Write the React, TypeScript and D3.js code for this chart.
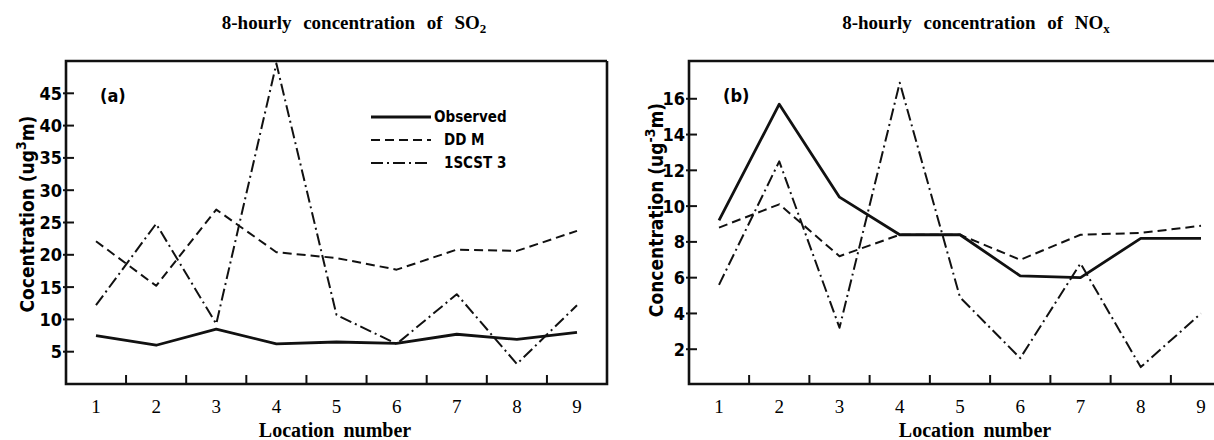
import React, { useEffect, useRef } from "react";
import * as d3 from "d3";

const locations = [1, 2, 3, 4, 5, 6, 7, 8, 9];
const so2Observed = [7.5, 6.0, 8.5, 6.2, 6.5, 6.3, 7.7, 6.9, 8.0];
const so2Ddm = [22.1, 15.2, 27.0, 20.4, 19.5, 17.7, 20.8, 20.6, 23.7];
const so2Iscst = [12.2, 24.8, 9.3, 49.6, 10.7, 6.2, 13.9, 3.1, 12.2];
const noxObserved = [9.2, 15.7, 10.5, 8.4, 8.4, 6.1, 6.0, 8.2, 8.2];
const noxDdm = [8.8, 10.1, 7.2, 8.4, 8.4, 7.0, 8.4, 8.5, 8.9];
const noxIscst = [5.6, 12.5, 3.2, 16.9, 4.9, 1.5, 6.8, 1.0, 4.0];
const so2Ticks = [5, 10, 15, 20, 25, 30, 35, 40, 45];
const noxTicks = [2, 4, 6, 8, 10, 12, 14, 16];
const legendNames = ["Observed", "DD M", "1SCST 3"];

const dashes = [null, "9,5", "12,4,2,4"];
const widths = [2.8, 2, 2];
const sans = "'DejaVu Sans Condensed', 'DejaVu Sans', sans-serif";
const serif = "'Liberation Serif', 'Times New Roman', serif";

export default function App() {
	const ref = useRef<SVGSVGElement>(null);

	useEffect(() => {
		const svg = d3.select(ref.current);
		svg.selectAll("*").remove();

		const panel = (opts) => {
			const { left, right, top, bottom, xRange, yDomain, yRange, ticks, series, tag, title, sub, yTitle, sup, titleX, labelX, frameRight } = opts;
			const g = svg.append("g");
			const x = d3.scaleLinear().domain([1, 9]).range(xRange);
			const y = d3.scaleLinear().domain(yDomain).range(yRange);

			// frame
			const edge = frameRight ? right : 1214;
			const frame = [[edge, top], [left, top], [left, bottom], [edge, bottom]];
			if (frameRight) frame.push([right, top]);
			g.append("path")
				.attr("d", d3.line()(frame))
				.attr("fill", "none")
				.attr("stroke", "#111")
				.attr("stroke-width", 2.6);

			// y ticks
			const yt = g.selectAll(".yt").data(ticks).join("g").attr("transform", (d) => `translate(${left},${y(d)})`);
			yt.append("line").attr("x1", -3).attr("x2", 8).attr("stroke", "#111").attr("stroke-width", 2);
			yt.append("text")
				.attr("x", -4)
				.attr("dy", "0.36em")
				.attr("text-anchor", "end")
				.attr("font-family", sans)
				.attr("font-weight", "bold")
				.attr("font-size", 18)
				.text((d) => d);

			// x ticks sit between the locations
			g.selectAll(".xt")
				.data(locations.slice(0, 8))
				.join("line")
				.attr("x1", (d) => x(d + 0.5))
				.attr("x2", (d) => x(d + 0.5))
				.attr("y1", bottom)
				.attr("y2", bottom - 9)
				.attr("stroke", "#111")
				.attr("stroke-width", 2);

			g.selectAll(".xl")
				.data(locations)
				.join("text")
				.attr("x", (d) => x(d))
				.attr("y", 413)
				.attr("text-anchor", "middle")
				.attr("font-family", serif)
				.attr("font-size", 19)
				.text((d) => d);

			g.append("text")
				.attr("x", labelX)
				.attr("y", 437)
				.attr("text-anchor", "middle")
				.attr("font-family", serif)
				.attr("font-weight", "bold")
				.attr("font-size", 20)
				.attr("word-spacing", 4)
				.text("Location number");

			const t = g.append("text")
				.attr("x", titleX)
				.attr("y", 29)
				.attr("text-anchor", "middle")
				.attr("font-family", serif)
				.attr("font-weight", "bold")
				.attr("font-size", 19)
				.attr("word-spacing", 7)
				.text(title);
			t.append("tspan").attr("dy", 4).attr("font-size", 13).text(sub);

			// y title
			const yl = g.append("text")
				.attr("transform", `translate(${opts.yTitleX},${opts.yTitleY}) rotate(-90)`)
				.attr("text-anchor", "middle")
				.attr("font-family", sans)
				.attr("font-weight", "bold")
				.attr("font-size", 19)
				.text(yTitle);
			yl.append("tspan").text("(ug");
			yl.append("tspan").attr("dy", -8).attr("font-size", 14).text(sup);
			yl.append("tspan").attr("dy", 8).text("m)");

			g.append("text")
				.attr("x", left + 34)
				.attr("y", top + 41)
				.attr("font-family", sans)
				.attr("font-weight", "bold")
				.attr("font-size", 18)
				.text(tag);

			const line = d3.line<number>().x((d, i) => x(locations[i])).y((d) => y(d));
			series.forEach((s, i) => {
				g.append("path")
					.attr("d", line(s))
					.attr("fill", "none")
					.attr("stroke", "#111")
					.attr("stroke-width", widths[i])
					.attr("stroke-linejoin", "round")
					.attr("stroke-dasharray", dashes[i]);
			});
			return g;
		};

		const a = panel({
			left: 66, right: 607, top: 61, bottom: 384,
			xRange: [96, 577], yDomain: [0, 50], yRange: [384, 61],
			ticks: so2Ticks, series: [so2Observed, so2Ddm, so2Iscst],
			tag: "(a)", title: "8-hourly concentration of SO", sub: "2",
			yTitle: "Cocentration ", sup: "3", yTitleX: 34, yTitleY: 214,
			titleX: 354, labelX: 335, frameRight: true,
		});

		// legend
		const lg = a.selectAll(".lg").data(legendNames).join("g").attr("transform", (d, i) => `translate(371,${117 + i * 23})`);
		lg.append("line")
			.attr("x1", 0)
			.attr("x2", 60)
			.attr("stroke", "#111")
			.attr("stroke-width", (d, i) => widths[i])
			.attr("stroke-dasharray", (d, i) => dashes[i]);
		lg.append("text")
			.attr("x", (d, i) => (i === 0 ? 63 : 73))
			.attr("dy", "0.36em")
			.attr("font-family", sans)
			.attr("font-weight", "bold")
			.attr("font-size", 15)
			.text((d) => d);

		panel({
			left: 689, right: 1214, top: 61, bottom: 384,
			xRange: [719, 1201], yDomain: [0, 18], yRange: [385, 63],
			ticks: noxTicks, series: [noxObserved, noxDdm, noxIscst],
			tag: "(b)", title: "8-hourly concentration of NO", sub: "x",
			yTitle: "Concentration ", sup: "-3", yTitleX: 663, yTitleY: 210,
			titleX: 976, labelX: 975, frameRight: false,
		});
	}, []);

	return (
		<svg
			ref={ref}
			width={1214}
			height={440}
			style={{ position: "absolute", left: 0, top: 0, background: "#fff" }}
		/>
	);
}
